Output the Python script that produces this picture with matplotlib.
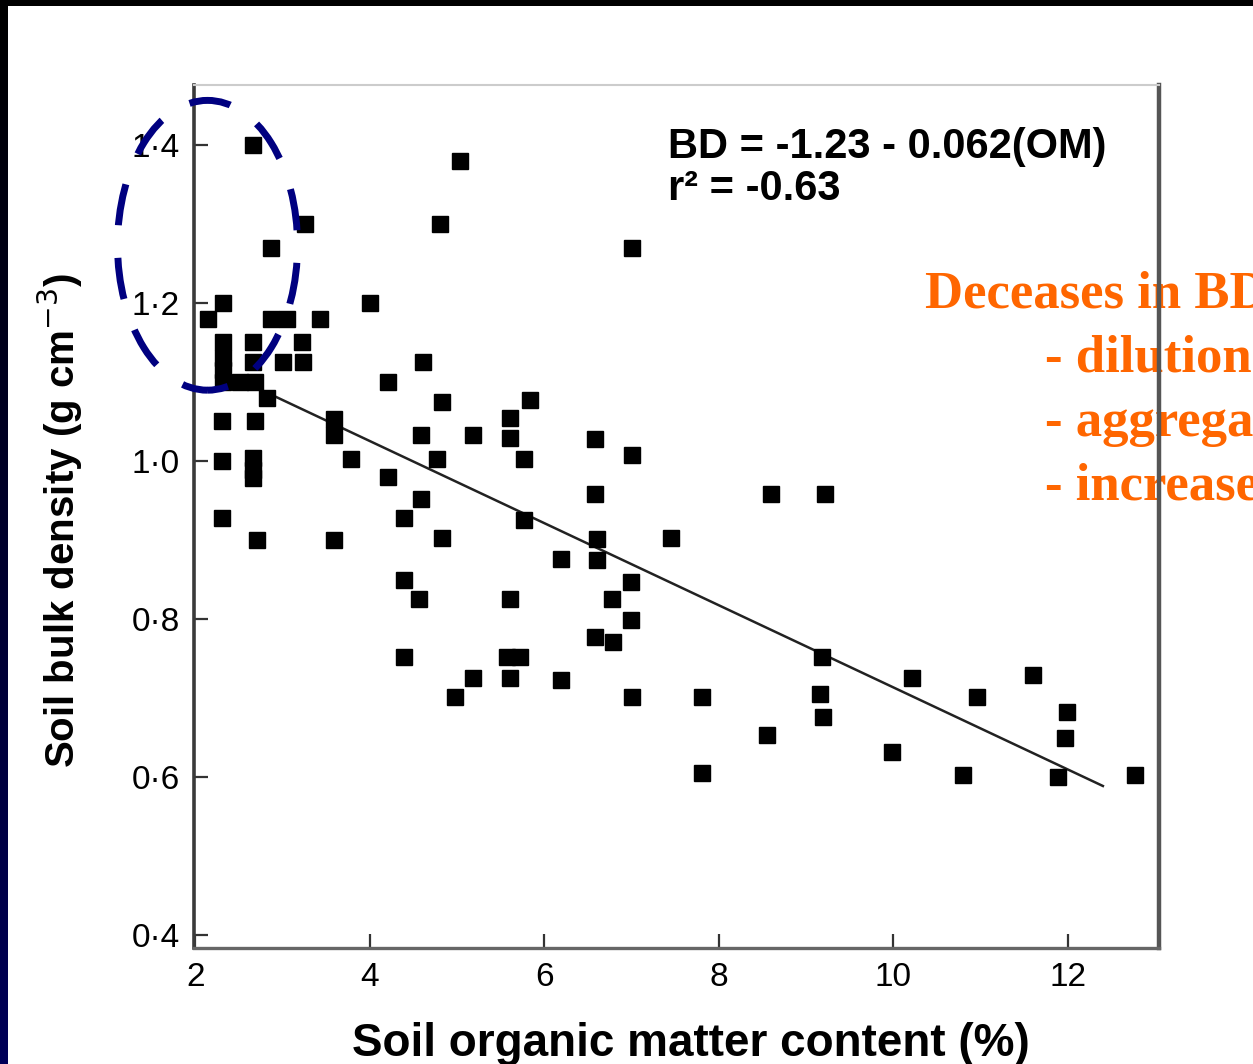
import numpy as np
import matplotlib
matplotlib.use('Agg')
import matplotlib.pyplot as plt
from matplotlib.patches import Ellipse, Rectangle
from matplotlib.colors import LinearSegmentedColormap

# soil organic matter (%) vs bulk density (g cm-3)
om_pct = [2.66, 5.03, 3.26, 4.80, 2.87, 7.00, 2.32, 4.00, 2.14, 2.87,
          3.05, 3.43, 2.32, 2.66, 3.22, 2.32, 2.32, 2.32, 2.51, 2.68,
          2.66, 3.00, 3.23, 4.61, 4.21, 2.82, 4.83, 5.83, 2.31, 2.68,
          3.59, 3.59, 5.61, 4.58, 5.18, 5.61, 6.58, 2.31, 2.66, 2.66,
          2.66, 3.78, 4.77, 5.77, 7.00, 4.21, 6.58, 4.59, 8.60, 9.21,
          2.31, 4.39, 5.77, 2.71, 3.59, 4.83, 6.60, 7.45, 6.19, 6.60,
          4.39, 6.99, 4.56, 5.61, 6.77, 6.99, 6.58, 6.79, 4.39, 5.57,
          5.72, 9.18, 5.18, 5.61, 6.19, 10.21, 11.60, 4.98, 7.00, 7.81,
          9.16, 10.96, 9.19, 11.99, 8.55, 11.97, 9.98, 7.81, 10.80, 11.89,
          12.77]
bulk_density = [1.40, 1.38, 1.30, 1.30, 1.27, 1.27, 1.20, 1.20, 1.18, 1.18,
                1.18, 1.18, 1.15, 1.15, 1.15, 1.13, 1.115, 1.10, 1.10, 1.10,
                1.125, 1.125, 1.125, 1.125, 1.10, 1.08, 1.075, 1.077, 1.05, 1.05,
                1.053, 1.033, 1.054, 1.033, 1.033, 1.029, 1.028, 1.00, 1.003, 0.988,
                0.978, 1.002, 1.002, 1.002, 1.007, 0.979, 0.958, 0.952, 0.958, 0.958,
                0.928, 0.928, 0.925, 0.90, 0.90, 0.902, 0.901, 0.902, 0.876, 0.875,
                0.849, 0.847, 0.825, 0.825, 0.825, 0.798, 0.777, 0.770, 0.751, 0.751,
                0.751, 0.751, 0.725, 0.725, 0.723, 0.725, 0.729, 0.701, 0.701, 0.701,
                0.705, 0.701, 0.676, 0.682, 0.653, 0.649, 0.631, 0.605, 0.602, 0.600,
                0.602]

# regression line as drawn in the figure
fit_intercept = 1.233
fit_slope = -0.052
fit_om_range = [2.78, 12.4]

x_ticks = [2, 4, 6, 8, 10, 12]
y_ticks = [0.4, 0.6, 0.8, 1.0, 1.2, 1.4]
y_tick_labels = ['0·4', '0·6', '0·8', '1·0', '1·2', '1·4']

equation_text = 'BD = -1.23 - 0.062(OM)'
r2_text = 'r² = -0.63'
note_title = 'Deceases in BD'
note_items = ['- dilution', '- aggrega', '- increase']

W, H = 1253, 1064
fig = plt.figure(figsize=(W / 100, H / 100), dpi=100, facecolor='white')

# slide frame: black band on top, dark strip on the left
fig.patches.append(Rectangle((0, 1 - 6 / H), 1, 6 / H, transform=fig.transFigure,
                             facecolor='black', edgecolor='none'))
strip = fig.add_axes([0, 0, 8 / W, 1 - 6 / H])
grad = np.linspace(0, 1, 256)[:, None]
strip.imshow(grad, aspect='auto', extent=[0, 1, 0, 1],
             cmap=LinearSegmentedColormap.from_list('strip', ['black', '#000058']))
strip.axis('off')

ax = fig.add_axes([194 / W, 1 - 948 / H, (1159 - 194) / W, (948 - 85) / H])
ax.set_xlim(1.984, 13.043)
ax.set_ylim(0.383, 1.476)

ax.plot(om_pct, bulk_density, 's', color='black', ms=11, mec='black', zorder=3)
fx = np.array(fit_om_range)
ax.plot(fx, fit_intercept + fit_slope * fx, color='#222222', lw=1.8, zorder=2)

ax.set_xticks(x_ticks)
ax.set_xticklabels([str(t) for t in x_ticks])
ax.set_yticks(y_ticks)
ax.set_yticklabels(y_tick_labels)
ax.tick_params(direction='in', length=10, width=1.6, color='#333333', labelsize=24, pad=10)
for lab in ax.get_xticklabels() + ax.get_yticklabels():
    lab.set_family('Liberation Sans')

ax.spines['left'].set_color('#3a3a3a')
ax.spines['left'].set_linewidth(2.6)
ax.spines['bottom'].set_color('#666666')
ax.spines['bottom'].set_linewidth(2.4)
ax.spines['right'].set_color('#555555')
ax.spines['right'].set_linewidth(3.2)
ax.spines['top'].set_color('#cccccc')
ax.spines['top'].set_linewidth(1.5)

fig.text(60 / W, 1 - 521 / H, 'Soil bulk density (g cm$^{-3}$)', rotation=90,
         ha='center', va='center', fontsize=29, fontweight='bold', family='Liberation Sans')
fig.text(691 / W, 1 - 1044 / H, 'Soil organic matter content (%)',
         ha='center', va='center', fontsize=33, fontweight='bold', family='Liberation Sans')

fig.text(668 / W, 1 - 158 / H, equation_text, ha='left', va='baseline',
         fontsize=30, fontweight='bold', family='Liberation Sans')
fig.text(668 / W, 1 - 200 / H, r2_text, ha='left', va='baseline',
         fontsize=30, fontweight='bold', family='Liberation Sans')

# dashed highlight ellipse round the low-OM cluster
ell = Ellipse((2.139, 1.273), 2.063, 0.367, facecolor='none', edgecolor='#000080',
              lw=5, linestyle=(3, (6, 4.7)), clip_on=False, zorder=5)
ax.add_patch(ell)

# orange note, runs off the right edge of the slide and sits under the right spine
orange = '#ff6600'
ax.text(925 / W, 1 - 308 / H, note_title, transform=fig.transFigure, ha='left',
        va='baseline', fontsize=38, fontweight='bold', family='Liberation Serif',
        color=orange, clip_on=False, zorder=2)
for i, item in enumerate(note_items):
    ax.text(1045 / W, 1 - (372 + 64 * i) / H, item, transform=fig.transFigure,
            ha='left', va='baseline', fontsize=38, fontweight='bold',
            family='Liberation Serif', color=orange, clip_on=False, zorder=2)

fig.savefig('out.png', dpi=100)
